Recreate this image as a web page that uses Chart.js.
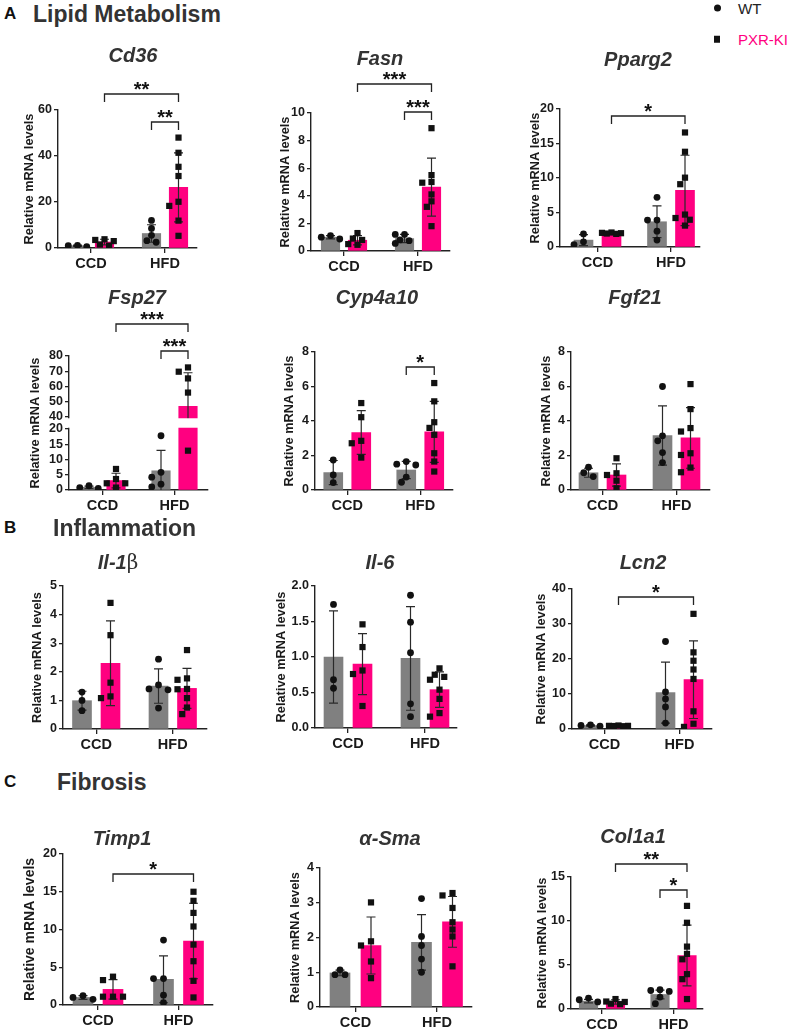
<!DOCTYPE html>
<html><head><meta charset="utf-8">
<script src="https://cdn.jsdelivr.net/npm/chart.js@4.4.1/dist/chart.umd.min.js"></script>
<style>
html,body{margin:0;padding:0;background:#fff}
#page{position:relative;width:793px;height:1032px;overflow:hidden;font-family:'Liberation Sans',Arial,Helvetica,sans-serif}
.t{position:absolute;line-height:1;white-space:nowrap;transform:translate(-50%,-50%);z-index:5}
.l{position:absolute;line-height:1;white-space:nowrap;transform:translateY(-50%);z-index:5}
canvas{position:absolute}
</style></head><body><div id="page"></div>
<script>
// ---------------- DATA ----------------
const categories = ['CCD', 'HFD'];
const seriesNames = ['WT', 'PXR-KI'];
const yTitleText = 'Relative mRNA levels';
// group order in every array: [WT·CCD, PXR-KI·CCD, WT·HFD, PXR-KI·HFD]

const cd36Ticks = [0, 20, 40, 60];
const cd36Mean = [1.0, 2.6, 6.3, 26.4];
const cd36Sd = [0.25, 1.2, 3.8, 15.0];
const cd36Points = [[0.6, 1.0, 1.1], [3.5, 3.0, 3.8, 1.0, 1.5], [12.0, 8.5, 5.5, 3.2, 2.5], [48, 41.4, 35.3, 31.3, 20.1, 18.3, 11.9, 5.3]];

const fasnTicks = [0, 2, 4, 6, 8, 10];
const fasnMean = [1.0, 0.78, 0.9, 4.63];
const fasnSd = [0.12, 0.33, 0.3, 2.1];
const fasnPoints = [[0.87, 1.12, 1.0], [1.3, 0.9, 0.8, 0.45, 0.5], [1.2, 1.2, 0.55, 0.75, 0.8], [8.9, 5.5, 5.0, 4.95, 4.1, 3.6, 3.2, 1.8]];

const pparg2Ticks = [0, 5, 10, 15, 20];
const pparg2Mean = [1.0, 2.05, 3.66, 8.2];
const pparg2Sd = [0.8, 0.15, 2.3, 5.1];
const pparg2Points = [[1.9, 0.35, 0.75], [1.9, 2.0, 2.1, 1.95, 2.05], [7.2, 3.9, 3.9, 2.3, 1.0], [16.6, 13.8, 10.05, 9.1, 4.7, 4.2, 3.95, 3.1]];

const fsp27Ticks = [0, 5, 10, 15, 20, 40, 50, 60, 70, 80];
const fsp27Mean = [0.9, 3.1, 6.3, 47];
const fsp27Sd = [0.4, 2.4, 6.7, 22];
const fsp27Points = [[0.5, 1.4, 0.8], [6.9, 3.6, 0.8, 2.2, 2.2], [17.8, 5.8, 4.2, 1.9, 1.0], [72.5, 69.7, 65.3, 56, 12.9, 29, 31]];

const cyp4a10Ticks = [0, 2, 4, 6, 8];
const cyp4a10Mean = [1.01, 3.33, 1.16, 3.37];
const cyp4a10Sd = [0.7, 1.27, 0.5, 1.77];
const cyp4a10Points = [[1.74, 0.87, 0.43], [5.04, 4.22, 2.85, 2.71, 1.88], [1.5, 1.65, 1.45, 0.75, 0.45], [6.2, 5.14, 3.93, 3.6, 3.2, 2.13, 1.65, 1.07]];

const fgf21Ticks = [0, 2, 4, 6, 8];
const fgf21Mean = [1.0, 0.87, 3.16, 3.02];
const fgf21Sd = [0.26, 0.65, 1.72, 1.76];
const fgf21Points = [[1.32, 0.78, 1.0], [1.84, 0.87, 0.97, 0.54, 0.1], [6.0, 3.14, 2.85, 2.17, 1.59], [6.14, 4.69, 3.59, 3.39, 2.13, 2.03, 1.03, 1.3]];

const il1bTicks = [0, 1, 2, 3, 4, 5];
const il1bMean = [0.99, 2.3, 1.5, 1.42];
const il1bSd = [0.33, 1.48, 0.6, 0.7];
const il1bPoints = [[1.29, 1.0, 0.64], [4.41, 3.28, 1.62, 1.08, 1.14], [2.44, 1.54, 1.4, 1.37, 0.73], [2.76, 1.77, 1.72, 1.4, 1.39, 1.08, 0.75, 0.52]];

const il6Ticks = [0, 0.5, 1.0, 1.5, 2.0];
const il6Mean = [1.0, 0.9, 0.98, 0.54];
const il6Sd = [0.65, 0.43, 0.73, 0.25];
const il6Points = [[1.74, 0.68, 0.56], [1.46, 1.14, 0.81, 0.76, 0.31], [1.87, 1.49, 1.06, 0.34, 0.16], [0.84, 0.68, 0.75, 0.72, 0.54, 0.41, 0.21, 0.16]];

const lcn2Ticks = [0, 10, 20, 30, 40];
const lcn2Mean = [1.0, 0.9, 10.4, 14.1];
const lcn2Sd = [0.2, 0.1, 8.7, 11.1];
const lcn2Points = [[0.8, 1.2, 1.0], [0.9, 0.8, 1.0, 0.9, 0.85], [25.0, 10.6, 8.6, 6.3, 1.7], [32.9, 21.9, 19.5, 17, 14.3, 5.05, 0.6, 1.5]];

const timp1Ticks = [0, 5, 10, 15, 20];
const timp1Mean = [1.0, 2.07, 3.4, 8.48];
const timp1Sd = [0.25, 1.3, 3.1, 5.0];
const timp1Points = [[0.75, 1.24, 1.0], [3.75, 3.3, 1.1, 1.1, 1.1], [8.6, 3.5, 3.5, 1.3, 0.3], [15.0, 13.8, 12.2, 10.4, 8.0, 5.8, 3.2, 1.0]];

const asmaTicks = [0, 1, 2, 3, 4];
const asmaMean = [0.98, 1.77, 1.86, 2.45];
const asmaSd = [0.08, 0.82, 0.8, 0.73];
const asmaPoints = [[0.93, 1.07, 0.93], [3.01, 1.77, 1.89, 1.31, 0.83], [3.12, 2.03, 1.77, 1.38, 1.0], [3.28, 3.21, 2.85, 2.44, 2.23, 2.03, 1.17]];

const col1a1Ticks = [0, 5, 10, 15];
const col1a1Mean = [0.9, 0.8, 1.65, 6.07];
const col1a1Sd = [0.2, 0.25, 0.5, 3.45];
const col1a1Points = [[0.8, 1.24, 1.05], [1.13, 0.85, 0.8, 0.55, 0.6], [2.2, 2.0, 2.1, 1.35, 0.6], [11.72, 9.8, 7.09, 6.26, 5.65, 3.96, 3.39, 1.13]];

// ---------------- STYLE / LAYOUT ----------------
const GRAY = '#808080', PINK = '#ff0080', AX = '#222', TXT = '#333';
const FF = "'Liberation Sans', Arial, Helvetica, sans-serif";
const YW = 44, PT = 50, PR = 8, XH = 30;

const panels = [
  {title:'Cd36', mean:cd36Mean, sd:cd36Sd, pts:cd36Points, ticks:cd36Ticks, L:58, R:197, T:110, B:248, c1:91, c2:165, off:13.5, bw:18.5, tx:133, ty:55, ydx:29, br:[[1,3,94,'**'],[2,3,122,'**']]},
  {title:'Fasn', mean:fasnMean, sd:fasnSd, pts:fasnPoints, ticks:fasnTicks, L:311, R:450, T:113, B:251, c1:344, c2:418, off:13.5, bw:18.5, tx:380, ty:58, ydx:26, br:[[1,3,84,'***'],[2,3,112,'***']]},
  {title:'Pparg2', mean:pparg2Mean, sd:pparg2Sd, pts:pparg2Points, ticks:pparg2Ticks, L:560, R:700, T:109, B:247, c1:597.5, c2:671, off:14, bw:19, tx:638, ty:59, ydx:25, br:[[1,3,116,'*']]},
  {title:'Fsp27', mean:fsp27Mean, sd:fsp27Sd, pts:fsp27Points, ticks:fsp27Ticks, L:69, R:208, T:356, B:490, c1:102.5, c2:174.5, off:13.5, bw:18.5, tx:137, ty:297, ydx:34, brk:{lowMax:20, highMin:40, lowFrac:0.455, highFrac:0.545}, br:[[1,3,324,'***'],[2,3,351,'***']]},
  {title:'Cyp4a10', mean:cyp4a10Mean, sd:cyp4a10Sd, pts:cyp4a10Points, ticks:cyp4a10Ticks, L:315, R:453, T:352, B:490, c1:347.25, c2:420.25, off:14, bw:19, tx:377, ty:297, ydx:26, br:[[2,3,367,'*']]},
  {title:'Fgf21', mean:fgf21Mean, sd:fgf21Sd, pts:fgf21Points, ticks:fgf21Ticks, L:571, R:710, T:352, B:490, c1:602.5, c2:676.5, off:14, bw:19, tx:635, ty:297, ydx:25, br:[]},
  {title:'Il-1', suffix:'β', mean:il1bMean, sd:il1bSd, pts:il1bPoints, ticks:il1bTicks, L:63, R:207, T:586, B:729, c1:96.25, c2:172.75, off:14.25, bw:19, tx:118, ty:562, ydx:26, br:[]},
  {title:'Il-6', mean:il6Mean, sd:il6Sd, pts:il6Points, ticks:il6Ticks, dec:1, L:315, R:457, T:586, B:728, c1:348, c2:425, off:14.5, bw:19, tx:380, ty:562, ydx:34, br:[]},
  {title:'Lcn2', mean:lcn2Mean, sd:lcn2Sd, pts:lcn2Points, ticks:lcn2Ticks, L:572, R:712, T:589, B:729, c1:604.5, c2:679.5, off:14, bw:19, tx:643, ty:562, ydx:31, br:[[1,3,597,'*']]},
  {title:'Timp1', mean:timp1Mean, sd:timp1Sd, pts:timp1Points, ticks:timp1Ticks, L:63, R:213, T:854, B:1005, c1:98, c2:178.5, off:15, bw:20, tx:122, ty:838, ydx:33, ytf:14, br:[[1,3,874,'*']]},
  {title:'α-Sma', mean:asmaMean, sd:asmaSd, pts:asmaPoints, ticks:asmaTicks, L:320, R:472, T:868, B:1007, c1:355.5, c2:437, off:15.5, bw:20, tx:390, ty:838, ydx:25, br:[]},
  {title:'Col1a1', mean:col1a1Mean, sd:col1a1Sd, pts:col1a1Points, ticks:col1a1Ticks, L:571, R:703, T:877, B:1009, c1:602, c2:673.5, off:13.5, bw:18.5, tx:633, ty:836, ydx:29, br:[[1,3,864,'**'],[2,3,890,'*']]},
];

const headers = [
  {letter:'A', text:'Lipid Metabolism', y:13.5, lx:4, tx:33},
  {letter:'B', text:'Inflammation', y:528, lx:4, tx:53},
  {letter:'C', text:'Fibrosis', y:782, lx:4, tx:57},
];

// ---------------- BROKEN AXIS SCALE ----------------
class BrokenScale extends Chart.LinearScale {
  getPixelForValue(v) {
    const b = this.options.brk;
    if (!b) return super.getPixelForValue(v);
    if (v === null || v === undefined || isNaN(v)) return NaN;
    let f;
    if (v <= b.lowMax) f = (v - this.min) / (b.lowMax - this.min) * b.lowFrac;
    else if (v >= b.highMin) f = b.highFrac + (v - b.highMin) / (this.max - b.highMin) * (1 - b.highFrac);
    else f = b.lowFrac + (v - b.lowMax) / (b.highMin - b.lowMax) * (b.highFrac - b.lowFrac);
    return this.bottom - f * (this.bottom - this.top);
  }
}
BrokenScale.id = 'broken';
Chart.register(BrokenScale);

// ---------------- PLUGIN FACTORY ----------------
function makePlugin(p, gx) {
  return {
    id: 'panelDecor',
    afterDatasetDraw(chart, args) {
      const ds = chart.data.datasets[args.index];
      if (!ds.grp) return;
      const ys = chart.scales.y, a = chart.chartArea, ctx = chart.ctx;
      ctx.save();
      ctx.beginPath(); ctx.rect(a.left, a.top - 1, a.right - a.left, a.bottom - a.top + 1); ctx.clip();
      ctx.strokeStyle = '#2a2a2a'; ctx.lineWidth = 1.2;
      args.meta.data.forEach((el, i) => {
        const g = ds.grp[i];
        const m = p.mean[g], s = p.sd[g];
        const yt = ys.getPixelForValue(m + s), yb = ys.getPixelForValue(m - s);
        const x = el.x, cw = 4.5;
        ctx.beginPath();
        ctx.moveTo(x, yb); ctx.lineTo(x, yt);
        ctx.moveTo(x - cw, yt); ctx.lineTo(x + cw, yt);
        ctx.moveTo(x - cw, yb); ctx.lineTo(x + cw, yb);
        ctx.stroke();
      });
      ctx.restore();
    },
    afterDraw(chart) {
      const ctx = chart.ctx, a = chart.chartArea, xs = chart.scales.x, ys = chart.scales.y;
      if (p.brk) {
        const y1 = ys.getPixelForValue(p.brk.highMin) + 1.3, y2 = ys.getPixelForValue(p.brk.lowMax) - 1.3;
        ctx.fillStyle = '#fff';
        ctx.fillRect(a.left - 2.5, y1, a.right - a.left + 5, y2 - y1);
      }
      const top = p.T - PT;
      ctx.save();
      ctx.strokeStyle = '#222'; ctx.lineWidth = 1.3; ctx.fillStyle = '#111';
      ctx.font = 'bold 20px ' + FF; ctx.textAlign = 'center'; ctx.textBaseline = 'alphabetic';
      p.br.forEach(([ga, gb, yPage, label]) => {
        const xa = xs.getPixelForValue(gx(ga)), xb = xs.getPixelForValue(gx(gb));
        const y = yPage - top, drop = 8;
        ctx.beginPath();
        ctx.moveTo(xa, y + drop); ctx.lineTo(xa, y); ctx.lineTo(xb, y); ctx.lineTo(xb, y + drop);
        ctx.stroke();
        ctx.fillText(label, (xa + xb) / 2, y + 2);
      });
      ctx.restore();
    }
  };
}

// ---------------- BUILD ----------------
const page = document.getElementById('page');

function addDiv(cls, html, style) {
  const d = document.createElement('div');
  d.className = cls; d.innerHTML = html; d.setAttribute('style', style);
  page.appendChild(d);
  return d;
}

headers.forEach(h => {
  addDiv('l', h.letter, `left:${h.lx}px;top:${h.y}px;font:bold 17px ${FF};color:#111`);
  addDiv('l', h.text, `left:${h.tx}px;top:${h.y}px;font:bold 23px ${FF};color:${TXT}`);
});

// legend
addDiv('l', '', `left:713.5px;top:8.3px;width:7px;height:7px;border-radius:50%;background:#111`);
addDiv('l', seriesNames[0], `left:738px;top:8.3px;font:15px ${FF};color:#222`);
addDiv('l', '', `left:713.5px;top:39.3px;width:6.5px;height:6.5px;background:#111`);
addDiv('l', seriesNames[1], `left:738px;top:39.3px;font:15px ${FF};color:${PINK}`);

function swarm(chart, p, gx) {
  const xs = chart.scales.x, ys = chart.scales.y;
  const ux = xs.getPixelForValue(2) - xs.getPixelForValue(1);
  const out = [[], []];
  const D = 6.8, step = Math.min(D, p.bw / 4);
  for (let g = 0; g < 4; g++) {
    const cx = gx(g);
    const vals = p.pts[g].slice().sort((a, b) => b - a);
    const placed = [];
    for (const v of vals) {
      const py = ys.getPixelForValue(v);
      let best = 0, bestD = -1;
      for (const c of [0, -1, 1, -2, 2]) {
        const dx = c * step;
        const md = placed.length ? Math.min(...placed.map(q => Math.hypot(q.dx - dx, q.py - py))) : 1e9;
        if (md >= D) { best = dx; bestD = md; break; }
        if (md > bestD) { bestD = md; best = dx; }
      }
      placed.push({dx: best, py});
      out[g % 2].push({x: cx + best / ux, y: v});
    }
  }
  return out;
}

panels.forEach(p => {
  const cv = document.createElement('canvas');
  const left = p.L - YW, top = p.T - PT;
  const w = YW + (p.R - p.L) + PR, h = PT + (p.B - p.T) + XH;
  cv.width = w; cv.height = h;
  cv.setAttribute('style', `left:${left}px;top:${top}px;width:${w}px;height:${h}px`);
  page.appendChild(cv);

  let tHtml = p.title;
  if (p.suffix) tHtml += `<span style="font-family:'DejaVu Serif','Liberation Serif',serif;font-style:normal;font-weight:normal">${p.suffix}</span>`;
  addDiv('t', tHtml, `left:${p.tx}px;top:${p.ty}px;font:italic bold 20px ${FF};color:${TXT}`);

  const u = p.c2 - p.c1;
  const xmin = 1 - (p.c1 - p.L) / u, xmax = 2 + (p.R - p.c2) / u;
  const offU = p.off / u;
  const gx = g => (g < 2 ? 1 : 2) + (g % 2 ? offU : -offU);
  const dec = p.dec || 0;
  const ytf = p.ytf || 12.8;
  const tpad = Math.max(0, YW - p.ydx - ytf * 0.6);
  const tickFont = {family: FF, size: 12.5, weight: 'bold'};

  const chart = new Chart(cv, {
    type: 'bar',
    data: {datasets: [
      {type: 'scatter', label: seriesNames[0], data: [], pointStyle: 'circle', pointRadius: 3.4, backgroundColor: '#111', borderWidth: 0, order: 0},
      {type: 'scatter', label: seriesNames[1], data: [], pointStyle: 'rect', pointRadius: 4.4, backgroundColor: '#111', borderWidth: 0, order: 0},
      {type: 'bar', label: seriesNames[0], grp: [0, 2], data: [{x: gx(0), y: p.mean[0]}, {x: gx(2), y: p.mean[2]}], backgroundColor: GRAY, borderWidth: 0, barThickness: p.bw, grouped: false, order: 1, clip: 0},
      {type: 'bar', label: seriesNames[1], grp: [1, 3], data: [{x: gx(1), y: p.mean[1]}, {x: gx(3), y: p.mean[3]}], backgroundColor: PINK, borderWidth: 0, barThickness: p.bw, grouped: false, order: 1, clip: 0},
    ]},
    options: {
      responsive: false, animation: false, devicePixelRatio: 1, events: [],
      layout: {padding: {top: PT, right: PR, left: 0, bottom: 0}},
      plugins: {legend: {display: false}, tooltip: {enabled: false}},
      scales: {
        x: {
          type: 'linear', min: xmin, max: xmax, offset: false,
          afterBuildTicks: s => { s.ticks = [{value: 1}, {value: 2}]; },
          afterFit: s => { s.height = XH; },
          grid: {display: true, offset: false, drawOnChartArea: false, drawTicks: true, tickLength: 5, color: AX, lineWidth: 1.3},
          border: {display: true, color: AX, width: 1.4},
          ticks: {font: {family: FF, size: 14.5, weight: 'bold'}, color: '#1a1a1a', padding: 2, autoSkip: false, maxRotation: 0,
                  callback: v => categories[Math.round(v) - 1]}
        },
        y: {
          type: p.brk ? 'broken' : 'linear', brk: p.brk,
          min: p.ticks[0], max: p.ticks[p.ticks.length - 1],
          afterBuildTicks: s => { s.ticks = p.ticks.map(v => ({value: v})); },
          afterFit: s => { s.width = YW; },
          grid: {display: true, drawOnChartArea: false, drawTicks: true, tickLength: 4, color: AX, lineWidth: 1.3},
          border: {display: true, color: AX, width: 1.4},
          ticks: {font: tickFont, color: '#1a1a1a', padding: 2, autoSkip: false, callback: v => Number(v).toFixed(dec)},
          title: {display: true, text: yTitleText, font: {family: FF, size: ytf, weight: 'bold'}, color: '#1a1a1a', padding: {top: tpad, bottom: 0}}
        }
      }
    },
    plugins: [makePlugin(p, gx)]
  });
  const pts = swarm(chart, p, gx);
  chart.data.datasets[0].data = pts[0];
  chart.data.datasets[1].data = pts[1];
  chart.update('none');
});
</script></body></html>
